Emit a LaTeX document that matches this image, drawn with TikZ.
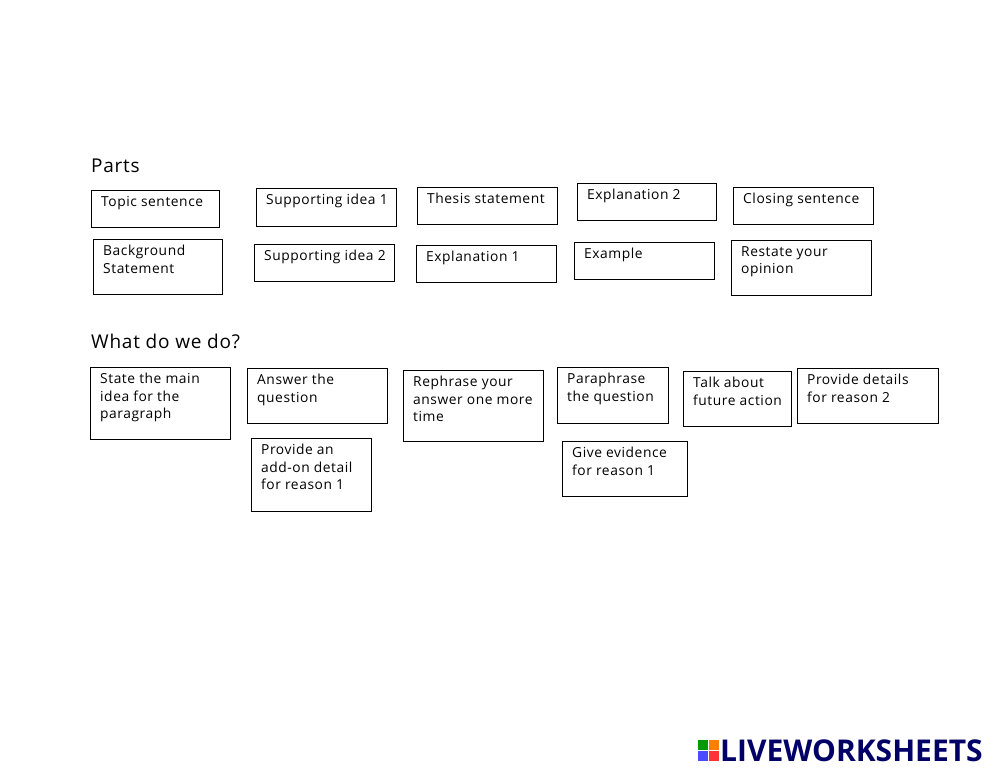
\documentclass[tikz,border=0pt]{standalone}
\usepackage{fontspec}
\setmainfont{Open Sans}[LetterSpace=4]
\newfontfamily\logofont{Open Sans}
\begin{document}
\begin{tikzpicture}[x=1pt,y=-1pt,
 bx/.style={draw=black,line width=0.9pt},
 tx/.style={anchor=north west,font=\fontsize{13.8}{17.5}\selectfont,align=left,inner sep=0pt},
 hd/.style={anchor=west,font=\fontsize{19}{22}\selectfont,inner sep=0pt}]
\useasboundingbox (0,0) rectangle (1000,772);
\fill[white] (0,0) rectangle (1000,772);
\node[hd] (parts) at (91,166) {Parts};
\node[hd] (what) at (91,341) {What do we do?};
\newcommand{\bbox}[6]{\draw[bx] (#2,#3) rectangle (#4,#5); \node[tx] (#1) at (#2+10,#3+6) {#6};}
\bbox{a}{91}{190}{219}{227}{Topic sentence}
\bbox{b}{256}{188}{396}{226}{Supporting idea 1}
\bbox{c}{417}{187}{557}{224}{Thesis statement}
\bbox{d}{577}{183}{716}{220}{Explanation 2}
\bbox{e}{733}{187}{873}{224}{Closing sentence}
\bbox{f}{93}{239}{222}{294}{Background\\Statement}
\bbox{g}{254}{244}{394}{281}{Supporting idea 2}
\bbox{h}{416}{245}{556}{282}{Explanation 1}
\bbox{i}{574}{242}{714}{279}{Example}
\bbox{j}{731}{240}{871}{295}{Restate your\\opinion}
\bbox{k}{90}{367}{230}{439}{State the main\\idea for the\\paragraph}
\bbox{l}{247}{368}{387}{423}{Answer the\\question}
\bbox{m}{403}{370}{543}{441}{Rephrase your\\answer one more\\time}
\bbox{n}{557}{367}{668}{423}{Paraphrase\\the question}
\bbox{o}{683}{371}{791}{426}{Talk about\\future action}
\bbox{p}{797}{368}{938}{423}{Provide details\\for reason 2}
\bbox{q}{251}{438}{371}{511}{Provide an\\add-on detail\\for reason 1}
\bbox{r}{562}{441}{687}{496}{Give evidence\\for reason 1}
% logo
\fill[green!60!black] (698,740) rectangle (708,750);
\fill[orange] (709,740) rectangle (719,750);
\fill[blue!70] (698,751) rectangle (708,761);
\fill[red!80] (709,751) rectangle (719,761);
\node[anchor=west,inner sep=0pt,font=\logofont\fontsize{30}{30}\selectfont\bfseries,text=blue!40!black] (logo) at (720,751) {LIVEWORKSHEETS};
\end{tikzpicture}
\end{document}
